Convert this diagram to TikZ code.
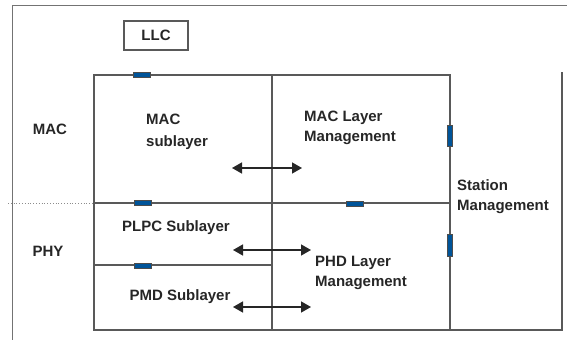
\documentclass[tikz,border=0pt]{standalone}
\usepackage{fontspec}
\setmainfont{Liberation Sans}
\usetikzlibrary{arrows.meta}
\begin{document}
\begin{tikzpicture}[x=1pt,y=-1pt,
  frame/.style={draw=black!55,line width=0.9pt},
  box/.style={draw=black!65,line width=1.3pt},
  lbl/.style={font=\fontsize{15}{20}\selectfont\bfseries,text=black!85,inner sep=0pt},
  lblL/.style={lbl,align=left,anchor=west},
  plug/.style={draw=black!70,fill=blue!45!cyan!60!black,line width=0.5pt},
  dbl/.style={line width=1.4pt,draw=black!85,{Triangle[length=10pt,width=11pt]}-{Triangle[length=10pt,width=11pt]}}
]
\useasboundingbox (0,0) rectangle (568,340);
% outer frame
\coordinate (ofa) at (12,340);
\coordinate (ofb) at (12,5);
\coordinate (ofc) at (567,5);
\draw[frame] (ofa) -- (ofb) -- (ofc);
% station management box (right & bottom)
\coordinate (sta) at (562,72);
\coordinate (stb) at (562,330);
\coordinate (stc) at (450,330);
\draw[box] (sta) -- (stb) -- (stc);
% main box
\coordinate (mtl) at (94,75);
\coordinate (mbr) at (450,330);
\draw[box] (mtl) rectangle (mbr);
\coordinate (vt) at (272,75);
\coordinate (vb) at (272,330);
\draw[box] (vt) -- (vb);
\coordinate (hl) at (94,203);
\coordinate (hr) at (450,203);
\draw[box] (hl) -- (hr);
\coordinate (dl) at (8,203);
\draw[draw=black!45,line width=0.8pt,dotted] (dl) -- (hl);
\coordinate (h2l) at (94,265);
\coordinate (h2r) at (272,265);
\draw[box] (h2l) -- (h2r);
% LLC
\node[draw=black!65,line width=1.2pt,minimum width=64pt,minimum height=29pt,inner sep=0pt,
  font=\fontsize{15}{19}\selectfont\bfseries,text=black!85] (llc) at (156,35.5) {LLC};
% plugs
\node[plug,minimum width=17pt,minimum height=5pt,inner sep=0pt] (p1) at (142,75) {};
\node[plug,minimum width=17pt,minimum height=5pt,inner sep=0pt] (p2) at (143,203) {};
\node[plug,minimum width=17pt,minimum height=5pt,inner sep=0pt] (p3) at (143,265.5) {};
\node[plug,minimum width=17pt,minimum height=5pt,inner sep=0pt] (p4) at (354.5,204) {};
\node[plug,minimum width=5pt,minimum height=21pt,inner sep=0pt] (p5) at (450,136) {};
\node[plug,minimum width=5pt,minimum height=22pt,inner sep=0pt] (p6) at (450,245) {};
% labels
\node[lbl] (mac) at (50,129) {MAC};
\node[lbl] (phy) at (48,251) {PHY};
\node[lblL,font=\fontsize{15}{22}\selectfont\bfseries] (macsub) at (146,132) {MAC\\sublayer};
\node[lblL] (maclm) at (304,128) {MAC Layer\\Management};
\node[lblL] (stm) at (457,197) {Station\\Management};
\node[lbl] (plpc) at (176,228) {PLPC Sublayer};
\node[lblL] (phdlm) at (315,273) {PHD Layer\\Management};
\node[lbl] (pmd) at (180,297) {PMD Sublayer};
% arrows
\coordinate (a1l) at (232,168);
\coordinate (a1r) at (302,168);
\draw[dbl] (a1l) -- (a1r);
\coordinate (a2l) at (233,250);
\coordinate (a2r) at (311,250);
\draw[dbl] (a2l) -- (a2r);
\coordinate (a3l) at (233,307);
\coordinate (a3r) at (311,307);
\draw[dbl] (a3l) -- (a3r);
\end{tikzpicture}
\end{document}
